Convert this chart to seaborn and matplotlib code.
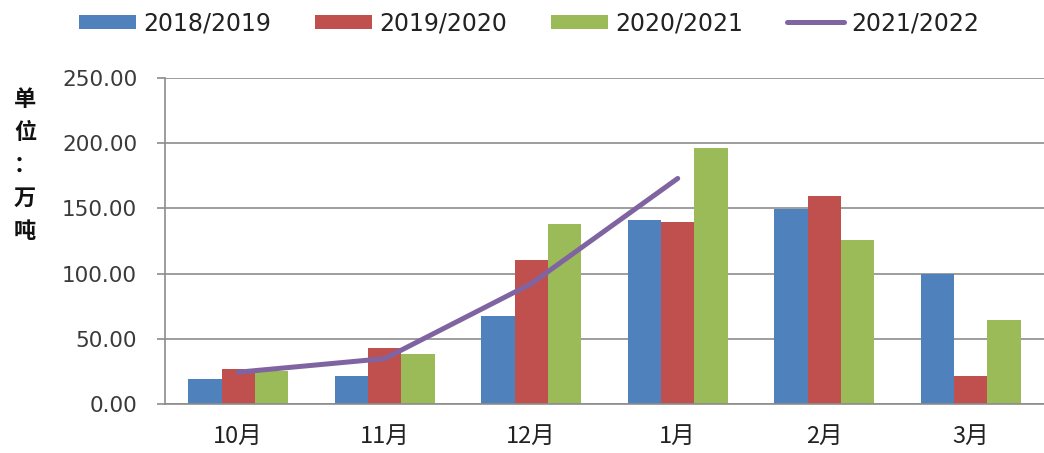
import matplotlib
matplotlib.use("Agg")
import matplotlib.pyplot as plt
import seaborn as sns
import pandas as pd
from matplotlib.patches import Patch
from matplotlib.lines import Line2D

months = ["10月", "11月", "12月", "1月", "2月", "3月"]
s2018 = [19.0, 21.8, 67.6, 141.2, 149.6, 99.5]
s2019 = [26.7, 43.2, 110.2, 139.4, 159.2, 21.6]
s2020 = [25.6, 38.9, 137.9, 196.2, 126.0, 64.4]
s2021_months = ["10月", "11月", "12月", "1月"]
s2021 = [24.6, 35.0, 92.4, 173.0]
series_names = ["2018/2019", "2019/2020", "2020/2021", "2021/2022"]
yticks = [0, 50, 100, 150, 200, 250]

colors = ["#4F81BD", "#C0504D", "#9BBB59", "#8064A2"]

sns.set_style("white")
plt.rcParams['font.family'] = ['Noto Sans CJK SC', 'DejaVu Sans']

df = pd.DataFrame({
    "month": months * 3,
    "value": s2018 + s2019 + s2020,
    "series": [series_names[0]] * 6 + [series_names[1]] * 6 + [series_names[2]] * 6,
})

fig = plt.figure(figsize=(10.44, 4.53), dpi=100)
ax = fig.add_axes([0.158, 0.1075, 0.842, 0.7205])

sns.barplot(data=df, x="month", y="value", hue="series", order=months,
            hue_order=series_names[:3], palette=colors[:3], width=0.68,
            saturation=1, ax=ax, legend=False, errorbar=None, linewidth=0)
ax.plot(range(len(s2021)), s2021, color=colors[3], linewidth=3.6,
        solid_capstyle="round", zorder=5)

ax.set_ylim(0, 250)
ax.set_xlim(-0.5, len(months) - 0.5)
ax.set_yticks(yticks)
ax.set_yticklabels([f"{v:.2f}" for v in yticks], fontsize=15.5,
                   family="DejaVu Sans", color="#3a3a3a")
ax.yaxis.grid(True, color="#8c8c8c", linewidth=1.2)
ax.set_axisbelow(True)

ax.set_xticks(range(len(months)))
ax.set_xticklabels(months, fontsize=17, color="#222222", fontweight="medium")
ax.tick_params(axis="x", length=0, pad=15)
ax.set_xticks([i + 0.5 for i in range(-1, len(months))], minor=True)
ax.tick_params(axis="x", which="minor", length=6, color="#8c8c8c", width=1.2)
ax.tick_params(axis="y", length=6, color="#8c8c8c", width=1.2, pad=14, left=True)

for side in ["top", "right"]:
    ax.spines[side].set_visible(False)
for side in ["left", "bottom"]:
    ax.spines[side].set_color("#8c8c8c")
    ax.spines[side].set_linewidth(1.2)

ax.set_xlabel("")
ax.set_ylabel("")

fig.text(0.024, 0.806, "\n".join("单位：万吨"), fontsize=16, fontweight="bold",
         ha="center", va="top", linespacing=1.56, color="#111111")

handles = [Patch(facecolor=c, edgecolor="none") for c in colors[:3]]
handles.append(Line2D([0], [0], color=colors[3], linewidth=3.6))
fig.legend(handles, series_names, loc="center left", bbox_to_anchor=(0.0757, 0.949),
           ncol=4, frameon=False, fontsize=17, handlelength=2.42,
           handleheight=0.55, columnspacing=1.86, handletextpad=0.3,
           borderpad=0, borderaxespad=0, labelcolor="#222222",
           prop={"family": "DejaVu Sans", "size": 17})

fig.savefig("out.png", dpi=100)
